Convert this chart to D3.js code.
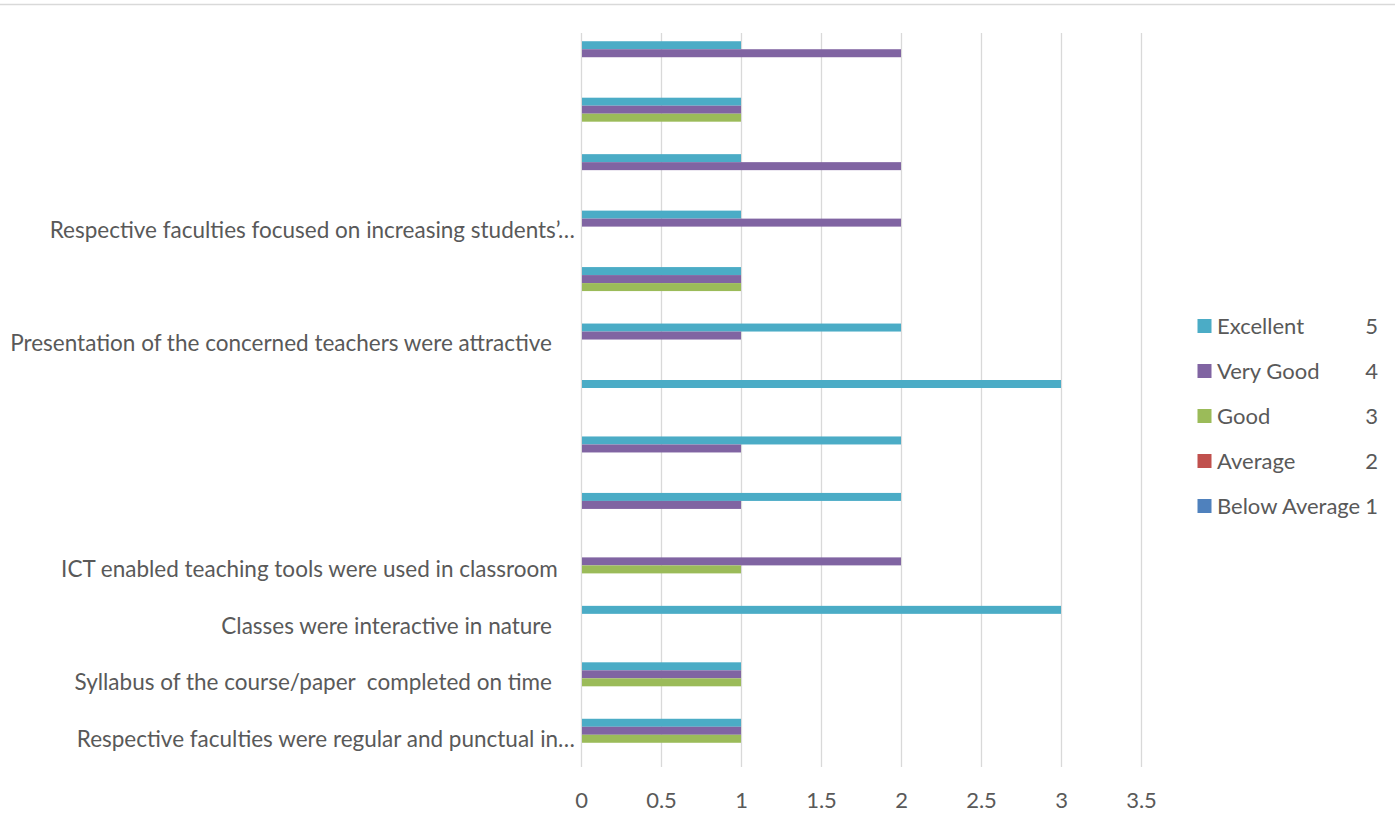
<!DOCTYPE html>
<html><head><meta charset="utf-8">
<script src="https://cdn.jsdelivr.net/npm/d3@7"></script>
<style>body{margin:0;background:#fff}svg{display:block}text{font-family:Lato,"Liberation Sans",sans-serif;fill:#595959}</style>
</head><body>
<script>
// categories from bottom to top
const categories = [
  "Respective faculties were regular and punctual in…",
  "Syllabus of the course/paper  completed on time    ",
  "Classes were interactive in nature    ",
  "ICT enabled teaching tools were used in classroom   ",
  "", "", "",
  "Presentation of the concerned teachers were attractive    ",
  "",
  "Respective faculties focused on increasing students’…",
  "", "", ""
];
const seriesNames = ["Excellent", "Very Good", "Good", "Average", "Below Average"];
const seriesCodes = ["5", "4", "3", "2", "1"];
const excellent    = [1,1,3,0,2,2,3,2,1,1,1,1,1];
const veryGood     = [1,1,0,2,1,1,0,1,1,2,2,1,2];
const good         = [1,1,0,1,0,0,0,0,1,0,0,1,0];
const average      = [0,0,0,0,0,0,0,0,0,0,0,0,0];
const belowAverage = [0,0,0,0,0,0,0,0,0,0,0,0,0];
const xTicks = [0,0.5,1,1.5,2,2.5,3,3.5];
const colors = ["#4bacc6","#8064a2","#9bbb59","#c0504d","#4f81bd"];

const seriesValues = [excellent, veryGood, good, average, belowAverage];
const W = 1395, H = 814;
const FS = "22px", FSY = "22.5px";
const svg = d3.select("body").append("svg").attr("width", W).attr("height", H);

svg.append("line").attr("x1",0).attr("x2",W).attr("y1",4.5).attr("y2",4.5)
  .attr("stroke","#d9d9d9").attr("stroke-width",1.5);

const pLeft = 581, pRight = 1141, pTop = 33, pBottom = 767;
const x = d3.scaleLinear().domain([0,3.5]).range([pLeft,pRight]);
const idx = d3.range(categories.length);
const y = d3.scaleBand().domain(idx.slice().reverse()).range([pTop,pBottom]).paddingInner(0.2917).paddingOuter(0.1458);
const ySub = d3.scaleBand().domain(d3.range(seriesNames.length)).range([0,y.bandwidth()]);

// gridlines
svg.append("g").selectAll("line").data(xTicks).join("line")
  .attr("x1",d=>Math.round(x(d))+0.5).attr("x2",d=>Math.round(x(d))+0.5)
  .attr("y1",pTop).attr("y2",pBottom).attr("stroke","#d9d9d9").attr("stroke-width",1.3);

// bars
seriesValues.forEach((vals,s)=>{
  svg.append("g").selectAll("rect").data(idx).join("rect")
    .attr("x",x(0)+1).attr("y",i=>y(i)+ySub(s))
    .attr("width",i=>Math.max(0,x(vals[i])-x(0)-1)).attr("height",ySub.bandwidth())
    .attr("fill",colors[s]);
});

// x axis labels
const xAxis = d3.axisBottom(x).tickValues(xTicks).tickSize(0).tickPadding(0).tickFormat(d=>String(d));
const gx = svg.append("g").attr("transform",`translate(0,${pBottom})`).call(xAxis);
gx.select(".domain").remove();
gx.selectAll("text").attr("y",33).attr("dy","0.35em").style("font-size",FS).style("font-family","Lato,sans-serif").attr("fill","#595959");

// y axis labels
const yLab = d3.scaleBand().domain(idx.slice().reverse()).range([pTop,pBottom]);
const yAxis = d3.axisLeft(yLab).tickSize(0).tickPadding(0).tickFormat(i=>categories[i]);
const gy = svg.append("g").attr("transform",`translate(575,0)`).call(yAxis);
gy.select(".domain").remove();
gy.selectAll("text").style("font-size",FSY).style("font-family","Lato,sans-serif").attr("fill","#595959").attr("dy","0.35em").attr("x",0)
  .style("white-space","pre");

// legend
const lg = svg.append("g");
seriesNames.forEach((n,i)=>{
  const yy = 326 + i*45;
  lg.append("rect").attr("x",1197.5).attr("y",yy-7).attr("width",14).attr("height",14).attr("fill",colors[i]);
  lg.append("text").attr("x",1217).attr("y",yy).attr("dy","0.35em").style("font-size",FS).text(n);
  lg.append("text").attr("x",1378).attr("y",yy).attr("dy","0.35em").attr("text-anchor","end").style("font-size",FS).text(seriesCodes[i]);
});
</script>
</body></html>
